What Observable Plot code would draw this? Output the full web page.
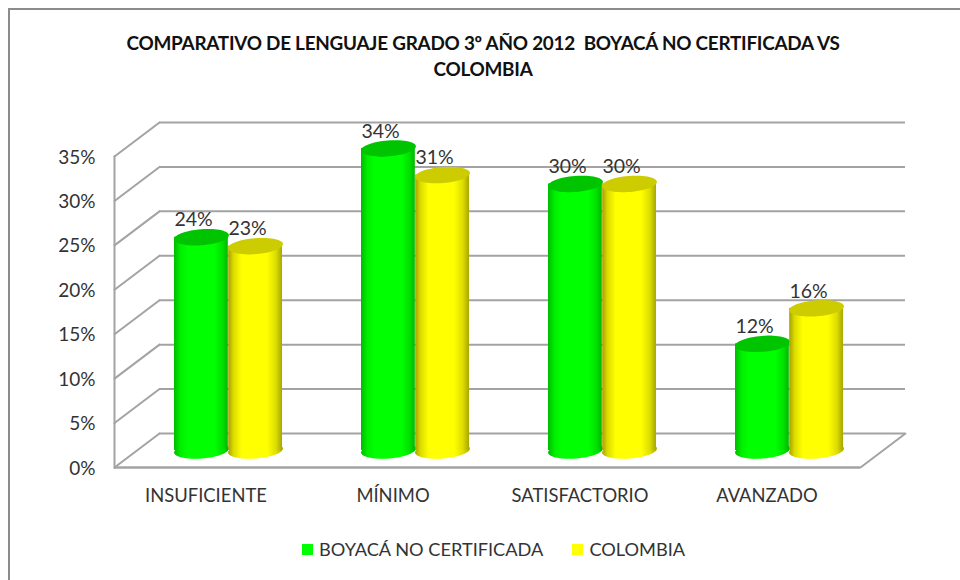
<!DOCTYPE html>
<html lang="es">
<head>
<meta charset="utf-8">
<script src="https://cdn.jsdelivr.net/npm/d3@7"></script>
<script src="https://cdn.jsdelivr.net/npm/@observablehq/plot@0.6"></script>
<style>
  html, body { margin: 0; padding: 0; background: #fff; width: 960px; height: 580px; overflow: hidden; }
  body { position: relative; font-family: Lato, "Open Sans", sans-serif; color: #333; }
  #frame { position: absolute; left: 8px; top: 8px; right: -4px; bottom: -4px; border: 2px solid #8c8c8c; }
  #title { position: relative; height: 100px; box-sizing: border-box; padding-top: 30px; padding-left: 6px; text-align: center;
           font-size: 18.9px; line-height: 26px; font-weight: 700; color: #111; white-space: pre-wrap; letter-spacing: -0.25px; }
  #chart { position: relative; height: 430px; }
  #chart svg { display: block; }
  #legend { position: absolute; left: 302px; top: 538px; display: flex; align-items: center; font-size: 18.2px; color: #333; line-height: 22px; }
  #legend i { display: inline-block; width: 11px; height: 11px; margin-right: 6px; }
  #legend span { margin-right: 29px; }
</style>
</head>
<body>
<div id="frame"></div>
<div id="title"></div>
<div id="chart"></div>
<div id="legend"></div>
<script>
const titleLines = ["COMPARATIVO DE LENGUAJE GRADO 3º AÑO 2012  BOYACÁ NO CERTIFICADA VS", "COLOMBIA"];
const categories = ["INSUFICIENTE", "MÍNIMO", "SATISFACTORIO", "AVANZADO"];
const seriesNames = ["BOYACÁ NO CERTIFICADA", "COLOMBIA"];
const boyaca = [24, 34, 30, 12];
const colombia = [23, 31, 30, 16];
const yTicks = [0, 5, 10, 15, 20, 25, 30, 35];
const swatches = ["#00ff00", "#ffff00"];
const topFaces = ["#00c400", "#cccc00"];

const boyacaRows = categories.map((c, i) => ({category: c, value: boyaca[i]}));
const colombiaRows = categories.map((c, i) => ({category: c, value: colombia[i]}));

document.getElementById("title").textContent = titleLines.join("\n");

const grid = "#a3a3a3";
const depthX = 45, depthY = 34;
const barHalf = 27, midX = 21, midY = depthY / 2;
const diagLength = Math.hypot(depthX, depthY);
const diagAngle = Math.atan2(depthX, depthY) * 180 / Math.PI;

const lineShape = {draw(ctx, l) { ctx.moveTo(0, 0); ctx.lineTo(0, -l); }};
const tiltedEllipse = {
  draw(ctx) {
    const rx = 27.5, ry = 8, t = -4.5 * Math.PI / 180;
    for (let k = 0; k < 60; ++k) {
      const a = 2 * Math.PI * k / 60;
      const px = rx * Math.cos(a), py = ry * Math.sin(a);
      const qx = px * Math.cos(t) - py * Math.sin(t), qy = px * Math.sin(t) + py * Math.cos(t);
      if (k) ctx.lineTo(qx, qy); else ctx.moveTo(qx, qy);
    }
    ctx.closePath();
  }
};

function gradients() {
  const g = d3.create("svg:defs");
  const add = (id, stops) => {
    const lg = g.append("linearGradient").attr("id", id);
    stops.forEach(([o, c]) => lg.append("stop").attr("offset", o).attr("stop-color", c));
  };
  add("cyl-green", [[0, "#00bb00"], [0.12, "#00ee00"], [0.25, "#00ff00"], [0.75, "#00ff00"], [0.9, "#00e000"], [1, "#00b800"]]);
  add("cyl-yellow", [[0, "#a8a000"], [0.1, "#dcdc00"], [0.25, "#ffff00"], [0.72, "#ffff00"], [0.88, "#dede00"], [1, "#a8a800"]]);
  return g.node();
}

function cylinder(rows, side, fillId, topFill) {
  const cx = midX + side * barHalf;
  const inset = side < 0 ? {insetRight: 54.2} : {insetLeft: 54.2};
  return [
    Plot.dot(rows, {x: "category", y: () => 0, symbol: tiltedEllipse, fill: `url(#${fillId})`, dx: cx, dy: -midY}),
    Plot.barY(rows, {x: "category", y: "value", fill: `url(#${fillId})`, dx: midX, dy: -midY, ...inset}),
    Plot.dot(rows, {x: "category", y: "value", symbol: tiltedEllipse, fill: topFill, dx: cx, dy: -midY}),
    Plot.text(rows, {x: "category", y: "value", text: d => d.value + "%", dx: cx - 8, dy: -midY - 17, fontSize: 19.5, fill: "#333"})
  ];
}

const plot = Plot.plot({
  width: 960,
  height: 430,
  marginLeft: 114,
  marginRight: 100,
  marginTop: 56,
  marginBottom: 63,
  style: {fontFamily: "Lato, 'Open Sans', sans-serif", fontSize: "18px", color: "#333", background: "transparent", overflow: "visible"},
  x: {domain: categories, type: "band", range: [114, 862], paddingInner: 0.42, paddingOuter: 0.21, label: null},
  y: {domain: [0, 35], label: null},
  marks: [
    gradients,
    Plot.ruleY(yTicks, {stroke: grid, strokeWidth: 2, strokeOpacity: 1, dx: depthX, dy: -depthY}),
    Plot.vector(yTicks, {y: d => d, frameAnchor: "left", length: diagLength, rotate: diagAngle, anchor: "start", shape: lineShape, stroke: grid, strokeWidth: 2}),
    Plot.vector([0], {frameAnchor: "bottom-right", length: diagLength, rotate: diagAngle, anchor: "start", shape: lineShape, stroke: grid, strokeWidth: 2}),
    Plot.frame({anchor: "left", stroke: grid, strokeWidth: 2}),
    Plot.ruleY([0], {stroke: grid, strokeWidth: 2.5, strokeOpacity: 1}),
    Plot.axisY({ticks: yTicks, tickSize: 0, tickPadding: 19, tickFormat: d => d + "%", label: null, fontSize: 19, dy: 1}),
    Plot.axisX({tickSize: 0, tickPadding: 21, label: null, fontSize: 18.4, dx: -1.5}),
    ...cylinder(boyacaRows, -1, "cyl-green", topFaces[0]),
    ...cylinder(colombiaRows, 1, "cyl-yellow", topFaces[1])
  ]
});
document.getElementById("chart").appendChild(plot);

const legend = d3.select("#legend");
seriesNames.forEach((name, i) => {
  legend.append("i").style("background", swatches[i]);
  legend.append("span").text(name);
});
</script>
</body>
</html>
